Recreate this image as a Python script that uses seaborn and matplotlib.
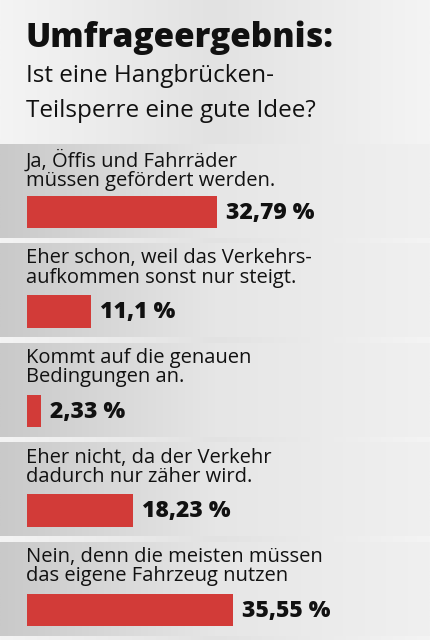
import matplotlib.pyplot as plt
import numpy as np
import pandas as pd
import seaborn as sns

title = "Umfrageergebnis:"
subtitle = ["Ist eine Hangbrücken-", "Teilsperre eine gute Idee?"]
answers = [
    "Ja, Öffis und Fahrräder\nmüssen gefördert werden.",
    "Eher schon, weil das Verkehrs-\naufkommen sonst nur steigt.",
    "Kommt auf die genauen\nBedingungen an.",
    "Eher nicht, da der Verkehr\ndadurch nur zäher wird.",
    "Nein, denn die meisten müssen\ndas eigene Fahrzeug nutzen",
]
percents = [32.79, 11.1, 2.33, 18.23, 35.55]
labels = ["32,79 %", "11,1 %", "2,33 %", "18,23 %", "35,55 %"]

sns.set_theme(style="white")
plt.rcParams["font.family"] = ["Open Sans", "DejaVu Sans"]

fig = plt.figure(figsize=(4.3, 6.4), dpi=100)
fig.patch.set_facecolor("#ececec")

# background layer in pixel coordinates
ax0 = fig.add_axes([0, 0, 1, 1], zorder=0)
grad = np.linspace(0, 1, 256)[None, :]
ax0.imshow(grad, cmap=sns.blend_palette(["#f4f4f4", "#e2e2e2", "#f4f4f4"], as_cmap=True),
           extent=[0, 430, 640, 0], aspect="auto")

ax0.text(25, 38, title, fontsize=24, fontweight="heavy", va="center", color="#111111")
ax0.text(26, 76, subtitle[0], fontsize=17.5, va="center", color="#111111")
ax0.text(26, 111, subtitle[1], fontsize=17.5, va="center", color="#111111")

panel_cmap = sns.blend_palette(["#c9c9c9", "#e6e6e6", "#f0f0f0"], as_cmap=True)
for i, ans in enumerate(answers):
    top = 144 + i * 99.5
    ax0.imshow(grad, cmap=panel_cmap, extent=[0, 430, top + 94, top], aspect="auto")
    ax0.text(26, top + 5, ans, fontsize=14.5, va="top", color="#111111", linespacing=0.95)
ax0.set_xlim(0, 430)
ax0.set_ylim(640, 0)
ax0.axis("off")

# bar layer
px = 5.8
ax1 = fig.add_axes([0, 0, 1, 1], zorder=1)
ax1.patch.set_alpha(0)
df = pd.DataFrame({"answer": [str(i) for i in range(len(percents))], "pct": percents})
sns.barplot(data=df, x="pct", y="answer", orient="h", color="#d23b38",
            saturation=1, width=0.33, linewidth=0, ax=ax1)
ax1.set_ylim((640 - 212) / 99.5, -212 / 99.5)
ax1.set_xlim(-27 / px, (430 - 27) / px)
ax1.axis("off")
for i, (v, lab) in enumerate(zip(percents, labels)):
    ax1.text(v + 9 / px, i + 0.01, lab, fontsize=16.5, fontweight="heavy", va="center", color="#111111")

fig.savefig("out.png", dpi=100)
